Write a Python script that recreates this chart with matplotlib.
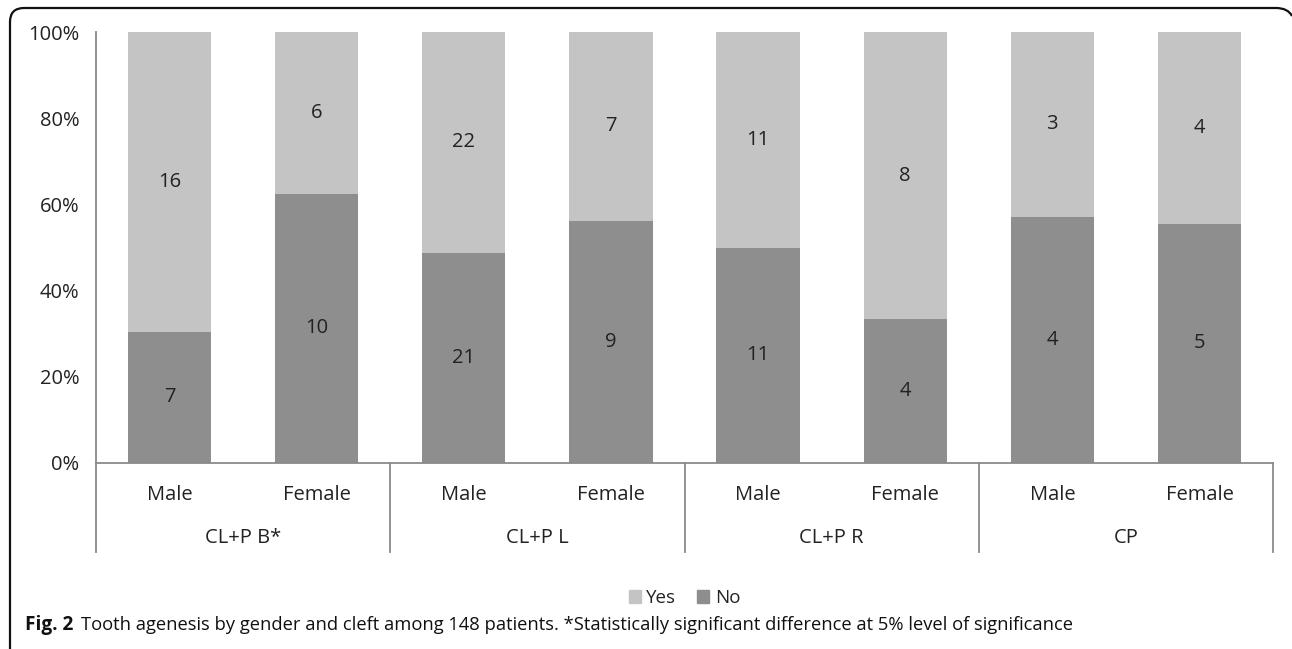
import matplotlib
matplotlib.use('Agg')
import matplotlib.pyplot as plt
from matplotlib.path import Path
from matplotlib.patches import PathPatch, Patch
import numpy as np

plt.rcParams['font.family'] = ['Open Sans', 'DejaVu Sans']

groups = ['CL+P B*', 'CL+P L', 'CL+P R', 'CP']
genders = ['Male', 'Female']
no_counts = [7, 10, 21, 9, 11, 4, 4, 5]
yes_counts = [16, 6, 22, 7, 11, 8, 3, 4]

c_yes = '#c4c4c4'
c_no = '#8e8e8e'
c_axis = '#8a8a8a'
fs = 14.5

W, H = 1292, 649
fig = plt.figure(figsize=(W / 100, H / 100), dpi=100)

x0, x1 = 96, 1273
ytop, ybot = 32, 463
ax = fig.add_axes([x0 / W, 1 - ybot / H, (x1 - x0) / W, (ybot - ytop) / H])

no = np.array(no_counts, dtype=float)
yes = np.array(yes_counts, dtype=float)
tot = no + yes
no_pct = no / tot * 100
yes_pct = yes / tot * 100
n = len(no)
x = np.arange(n)

ax.bar(x, no_pct, width=0.565, color=c_no, label='No', zorder=2)
ax.bar(x, yes_pct, width=0.565, bottom=no_pct, color=c_yes, label='Yes', zorder=2)

for i in range(n):
    ax.text(x[i], no_pct[i] / 2, str(no_counts[i]), ha='center', va='center',
            fontsize=fs, color='#222222')
    ax.text(x[i], no_pct[i] + yes_pct[i] / 2, str(yes_counts[i]), ha='center',
            va='center', fontsize=fs, color='#222222')

ax.set_xlim(-0.5, n - 0.5)
ax.set_ylim(0, 100)
ax.set_yticks(range(0, 101, 20))
ax.set_yticklabels([f'{v}%' for v in range(0, 101, 20)])
ax.tick_params(axis='y', length=0, pad=12, labelsize=fs, labelcolor='#222222')
ax.set_xticks([])
for s in ['top', 'right']:
    ax.spines[s].set_visible(False)
ax.spines['left'].set_color(c_axis)
ax.spines['bottom'].set_color(c_axis)
ax.spines['left'].set_linewidth(1.3)
ax.spines['bottom'].set_linewidth(1.3)

# hierarchical category axis below the plot
trans = ax.get_xaxis_transform()
h_px = ybot - ytop
sep_bottom = -(552 - ybot) / h_px
for k in range(len(groups) + 1):
    xs = k * 2 - 0.5
    ax.plot([xs, xs], [0, sep_bottom], transform=trans, color=c_axis, lw=1.3,
            clip_on=False)
for i in range(n):
    ax.text(x[i], -(495 - ybot) / h_px, genders[i % 2], transform=trans,
            ha='center', va='center', fontsize=fs, color='#222222')
for k, g in enumerate(groups):
    ax.text(k * 2 + 0.5, -(538 - ybot) / h_px, g, transform=trans,
            ha='center', va='center', fontsize=fs, color='#222222')

handles = [Patch(color=c_yes, label='Yes'), Patch(color=c_no, label='No')]
fig.legend(handles=handles, loc='center', bbox_to_anchor=((x0 + x1) / 2 / W, 1 - 598 / H),
           ncol=2, frameon=False, fontsize=13.5, handlelength=0.65, handleheight=0.65,
           handletextpad=0.3, columnspacing=1.1, labelcolor='#222222')

# rounded frame (left and top edges)
def fp(px, py):
    return (px / W, 1 - py / H)

verts = [fp(10, 649), fp(10, 640), fp(10, 632), fp(10, 22), fp(10, 8), fp(24, 8),
         fp(1276, 8), fp(1288, 8), fp(1292, 16)]
codes = [Path.MOVETO, Path.LINETO, Path.LINETO, Path.LINETO, Path.CURVE3, Path.CURVE3,
         Path.LINETO, Path.CURVE3, Path.CURVE3]
fig.patches.append(PathPatch(Path(verts, codes), transform=fig.transFigure,
                             fill=False, edgecolor='#111111', lw=1.6))

cap_y = 1 - 625 / H
t1 = fig.text(25 / W, cap_y, 'Fig. 2', fontsize=13.7, fontweight='bold',
              ha='left', va='center', color='#111111')
fig.canvas.draw()
bb = t1.get_window_extent()
fig.text((bb.x1 + 8) / W, cap_y,
         'Tooth agenesis by gender and cleft among 148 patients. '
         '*Statistically significant difference at 5% level of significance',
         fontsize=13.2, ha='left', va='center', color='#111111')

fig.savefig('out.png', dpi=100)
